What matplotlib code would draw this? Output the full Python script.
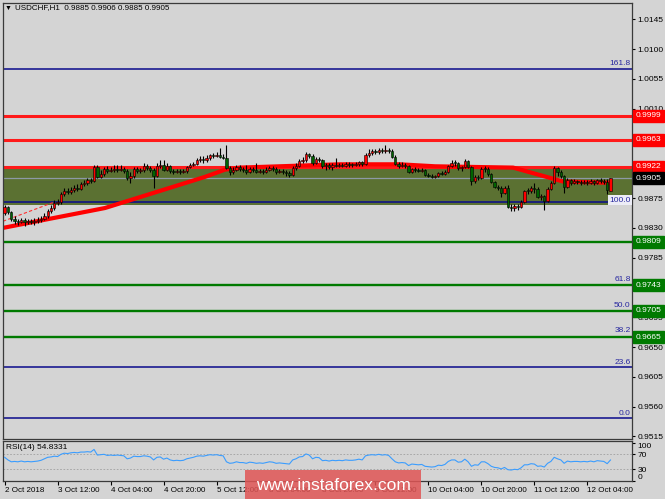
import matplotlib
matplotlib.use("Agg")
import matplotlib.pyplot as plt
from matplotlib.patches import Rectangle
from matplotlib.transforms import blended_transform_factory

plt.rcParams['font.family'] = ['Liberation Sans', 'DejaVu Sans']

symbol = "USDCHF,H1"

opens = [
    .9853, .9862, .9854, .9844, .9841, .9839, .9842, .9839, .9841, .9839,
    .9841, .9842, .9844, .9848, .9856, .9860, .9868, .9869, .9881, .9886,
    .9884, .9887, .9890, .9889, .9896, .9898, .9902, .9901, .9922, .9907,
    .9911, .9919, .9916, .9918, .9919, .9918, .9919, .9916, .9905, .9908,
    .9919, .9916, .9918, .9924, .9921, .9918, .9908, .9924, .9925, .9918,
    .9924, .9916, .9915, .9916, .9915, .9916, .9922, .9925, .9927, .9933,
    .9934, .9933, .9936, .9940, .9939, .9940, .9937, .9936, .9921, .9915,
    .9918, .9922, .9919, .9918, .9915, .9919, .9918, .9915, .9916, .9915,
    .9918, .9921, .9919, .9915, .9916, .9915, .9913, .9910, .9921, .9924,
    .9931, .9933, .9942, .9939, .9928, .9934, .9933, .9924, .9925, .9922,
    .9925, .9924, .9925, .9924, .9927, .9925, .9925, .9927, .9930, .9927,
    .9940, .9943, .9946, .9945, .9948, .9946, .9948, .9946, .9937, .9927,
    .9924, .9925, .9924, .9915, .9919, .9918, .9916, .9918, .9910, .9908,
    .9907, .9908, .9913, .9911, .9915, .9924, .9928, .9928, .9921, .9922,
    .9931, .9922, .9901, .9907, .9905, .9919, .9919, .9911, .9899, .9892,
    .9890, .9883, .9890, .9862, .9860, .9863, .9862, .9869, .9886, .9886,
    .9890, .9889, .9877, .9878, .9871, .9889, .9898, .9921, .9915, .9908,
    .9892, .9902, .9898, .9901, .9899, .9898, .9899, .9898, .9901, .9898,
    .9902, .9901, .9899, .9885,
]
highs = [
    .9865, .9863, .9856, .9848, .9844, .9845, .9845, .9844, .9844, .9845,
    .9847, .9848, .9853, .9859, .9865, .9872, .9874, .9884, .9890, .9890,
    .9892, .9895, .9896, .9899, .9902, .9905, .9905, .9925, .9925, .9918,
    .9922, .9924, .9922, .9925, .9925, .9925, .9922, .9919, .9915, .9922,
    .9922, .9921, .9928, .9927, .9924, .9921, .9928, .9933, .9933, .9928,
    .9925, .9919, .9919, .9919, .9919, .9924, .9928, .9930, .9936, .9939,
    .9939, .9940, .9942, .9943, .9945, .9951, .9942, .9955, .9924, .9922,
    .9925, .9925, .9922, .9925, .9922, .9922, .9928, .9919, .9919, .9922,
    .9924, .9924, .9922, .9919, .9919, .9918, .9916, .9924, .9928, .9934,
    .9937, .9945, .9943, .9942, .9937, .9937, .9934, .9928, .9928, .9928,
    .9936, .9928, .9928, .9930, .9930, .9928, .9930, .9931, .9931, .9943,
    .9949, .9949, .9949, .9951, .9951, .9955, .9951, .9949, .9940, .9930,
    .9930, .9928, .9925, .9921, .9922, .9921, .9921, .9919, .9913, .9911,
    .9910, .9915, .9916, .9918, .9925, .9933, .9933, .9930, .9924, .9934,
    .9933, .9924, .9910, .9910, .9922, .9924, .9922, .9913, .9901, .9895,
    .9893, .9893, .9895, .9866, .9866, .9866, .9872, .9887, .9890, .9893,
    .9898, .9892, .9881, .9880, .9892, .9901, .9924, .9922, .9918, .9910,
    .9905, .9904, .9904, .9902, .9902, .9902, .9902, .9904, .9902, .9904,
    .9905, .9904, .9904, .9906,
]
lows = [
    .9850, .9851, .9841, .9836, .9834, .9837, .9833, .9836, .9836, .9834,
    .9837, .9839, .9842, .9845, .9853, .9857, .9865, .9866, .9878, .9881,
    .9881, .9884, .9886, .9887, .9893, .9895, .9898, .9899, .9905, .9905,
    .9908, .9913, .9915, .9915, .9915, .9916, .9913, .9902, .9898, .9905,
    .9913, .9913, .9915, .9918, .9915, .9890, .9907, .9921, .9916, .9916,
    .9913, .9911, .9913, .9911, .9913, .9913, .9921, .9924, .9925, .9930,
    .9928, .9930, .9933, .9936, .9937, .9936, .9934, .9919, .9910, .9911,
    .9916, .9916, .9915, .9911, .9913, .9915, .9913, .9913, .9911, .9913,
    .9916, .9916, .9911, .9913, .9911, .9908, .9907, .9908, .9918, .9922,
    .9928, .9930, .9936, .9925, .9927, .9930, .9921, .9918, .9919, .9918,
    .9922, .9922, .9922, .9922, .9922, .9922, .9924, .9924, .9924, .9925,
    .9937, .9940, .9942, .9942, .9943, .9943, .9943, .9936, .9925, .9921,
    .9922, .9921, .9913, .9913, .9915, .9915, .9915, .9908, .9907, .9905,
    .9905, .9907, .9910, .9910, .9913, .9922, .9924, .9918, .9916, .9921,
    .9921, .9895, .9898, .9902, .9904, .9915, .9908, .9898, .9890, .9887,
    .9877, .9881, .9860, .9856, .9856, .9857, .9860, .9868, .9881, .9883,
    .9883, .9875, .9872, .9857, .9869, .9887, .9896, .9908, .9905, .9883,
    .9890, .9895, .9896, .9896, .9895, .9896, .9895, .9896, .9895, .9896,
    .9898, .9896, .9881, .9885,
]
closes = [
    .9862, .9854, .9844, .9841, .9839, .9842, .9839, .9841, .9839, .9841,
    .9842, .9844, .9848, .9856, .9860, .9868, .9869, .9881, .9886, .9884,
    .9887, .9890, .9889, .9896, .9898, .9902, .9901, .9922, .9907, .9911,
    .9919, .9916, .9918, .9919, .9918, .9919, .9916, .9905, .9908, .9919,
    .9916, .9918, .9924, .9921, .9918, .9908, .9924, .9925, .9918, .9924,
    .9916, .9915, .9916, .9915, .9916, .9922, .9925, .9927, .9933, .9934,
    .9933, .9936, .9940, .9939, .9940, .9937, .9936, .9921, .9915, .9918,
    .9922, .9919, .9918, .9915, .9919, .9918, .9915, .9916, .9915, .9918,
    .9921, .9919, .9915, .9916, .9915, .9913, .9910, .9921, .9924, .9931,
    .9933, .9942, .9939, .9928, .9934, .9933, .9924, .9925, .9922, .9925,
    .9924, .9925, .9924, .9927, .9925, .9925, .9927, .9930, .9927, .9940,
    .9943, .9946, .9945, .9948, .9946, .9948, .9946, .9937, .9927, .9924,
    .9925, .9924, .9915, .9919, .9918, .9916, .9918, .9910, .9908, .9907,
    .9908, .9913, .9911, .9915, .9924, .9928, .9928, .9921, .9922, .9931,
    .9922, .9901, .9907, .9905, .9919, .9919, .9911, .9899, .9892, .9890,
    .9883, .9890, .9862, .9860, .9863, .9862, .9869, .9886, .9886, .9890,
    .9889, .9877, .9878, .9871, .9889, .9898, .9921, .9915, .9908, .9892,
    .9902, .9898, .9901, .9899, .9898, .9899, .9898, .9901, .9898, .9902,
    .9901, .9899, .9887, .9905,
]

rsi_values = [
    62, 55, 50, 51, 50, 52, 50, 51, 50, 51,
    52, 54, 58, 62, 63, 65, 64, 70, 73, 72,
    74, 75, 74, 76, 76, 77, 76, 83, 68, 69,
    70, 67, 68, 67, 68, 67, 66, 58, 60, 65,
    64, 64, 66, 65, 63, 55, 62, 63, 57, 60,
    55, 53, 54, 53, 54, 58, 60, 62, 65, 66,
    65, 67, 69, 68, 69, 67, 66, 50, 46, 47,
    50, 48, 48, 46, 49, 48, 46, 47, 46, 48,
    50, 49, 46, 47, 46, 45, 44, 55, 58, 63,
    64, 71, 68, 58, 62, 61, 53, 54, 52, 54,
    53, 54, 53, 55, 54, 54, 55, 57, 55, 66,
    68, 69, 68, 70, 68, 69, 67, 58, 50, 47,
    48, 47, 40, 44, 43, 42, 43, 38, 37, 36,
    37, 41, 40, 43, 51, 55, 55, 49, 50, 57,
    50, 38, 42, 41, 50, 50, 45, 38, 35, 34,
    31, 35, 29, 28, 30, 29, 34, 42, 42, 45,
    44, 38, 39, 36, 46, 51, 62, 58, 55, 46,
    52, 50, 51, 51, 50, 51, 50, 52, 50, 53,
    52, 51, 45, 54.8331,
]
rsi_title = "RSI(14) 54.8331"

tick_idx = [0, 16, 32, 48, 64, 80, 96, 112, 128, 144, 160, 176]
tick_labels = ["2 Oct 2018", "3 Oct 12:00", "4 Oct 04:00", "4 Oct 20:00",
               "5 Oct 12:00", "8 Oct 04:00", "8 Oct 20:00", "9 Oct 12:00",
               "10 Oct 04:00", "10 Oct 20:00", "11 Oct 12:00", "12 Oct 04:00"]

price_ticks = [1.0145, 1.0100, 1.0055, 1.0010, 0.9965, 0.9920, 0.9875, 0.9830,
               0.9785, 0.9740, 0.9695, 0.9650, 0.9605, 0.9560, 0.9515]
resistance = [0.9999, 0.9963, 0.9922]
support = [0.9809, 0.9743, 0.9705, 0.9665]
current_price = 0.9905
fib_low, fib_high = 0.9543, 0.9869
fib_levels = [0.0, 23.6, 38.2, 50.0, 61.8, 100.0, 161.8]
zone_bottom, zone_top = 0.9864, 0.9920

ma_idx = [-0.5, 30.3, 60.5, 66.6, 71, 89, 101.3, 119.4, 130, 153.6, 168.7, 183.5]
ma_vals = [0.9830, 0.9860, 0.9907, 0.9918, 0.9921, 0.9924, 0.9926, 0.9926,
           0.9923, 0.9921, 0.9900, 0.9898]
fib_line_idx = [-0.5, 15]
fib_line_vals = [0.9840, 0.9869]

# ---------------------------------------------------------------
W, H = 665, 499
fig = plt.figure(figsize=(W / 100, H / 100), dpi=100)
bg = '#d4d4d4'
fig.patch.set_facecolor(bg)


def fx(px):
    return px / W


def fy(py):
    return 1 - py / H


ax = fig.add_axes([fx(3), fy(439), fx(632) - fx(3), fy(3) - fy(439)])
ax2 = fig.add_axes([fx(3), fy(481), fx(632) - fx(3), fy(441) - fy(481)], sharex=ax)
for a in (ax, ax2):
    a.set_facecolor(bg)
    for s in a.spines.values():
        s.set_color('#3a3a3a')
        s.set_linewidth(0.9)

n = len(closes)
xs = list(range(n))
ax.set_xlim(-0.5, 189.5)
ax.set_ylim(0.95112, 1.01696)

ax.axhspan(zone_bottom, zone_top, color='#5b7132', lw=0, zorder=0.5)
ax.axhline(current_price, color='#8d99a6', lw=0.9, zorder=0.8)

tr = blended_transform_factory(ax.transAxes, ax.transData)
rng = fib_high - fib_low
for lv in fib_levels:
    p = fib_low + rng * lv / 100.0
    covered = any(abs(p - s) < 0.0004 for s in support)
    if not covered:
        ax.axhline(p, color='#0a0a8c', lw=1.1, zorder=1)
    if lv == 100.0:
        ax.text(0.998, p + 0.0003, f"{lv:.1f}", transform=tr, ha='right', va='center',
                color='#2828a0', fontsize=6, zorder=6,
                bbox=dict(boxstyle='square,pad=0.15', fc='#ececf6', ec='none'))
    else:
        ax.text(0.998, p + 0.0002, f"{lv:.1f}", transform=tr, ha='right', va='bottom',
                color='#2828a0', fontsize=6, zorder=6)

for p in support:
    ax.axhline(p, color='#007a00', lw=1.7, zorder=1.2)
for p in resistance:
    ax.axhline(p, color='#ff1a1a', lw=2.2, zorder=1.2)

ax.plot(ma_idx, ma_vals, color='#ff0000', lw=3.0, zorder=1.5, solid_capstyle='butt')
ax.plot(fib_line_idx, fib_line_vals, color='#ff3030', lw=0.8, ls=(0, (3, 2)), zorder=1.5)

# candles
ax.vlines(xs, lows, highs, color='black', lw=0.8, zorder=3)
bottoms = [min(o, c) for o, c in zip(opens, closes)]
heights = [max(abs(c - o), 0.00008) for o, c in zip(opens, closes)]
colors = ['#ff0000' if c > o else '#006400' for o, c in zip(opens, closes)]
ax.bar(xs, heights, bottom=bottoms, width=0.7, color=colors, edgecolor='black',
       linewidth=0.4, zorder=4)

# price axis: labels hidden under a resistance box are left blank (as in the source)
ax.yaxis.tick_right()
ax.set_yticks(price_ticks)
ax.set_yticklabels(["" if any(abs(p - r) < 0.0004 for r in resistance) else f"{p:.4f}"
                    for p in price_ticks])
ax.tick_params(axis='y', length=2.2, width=0.8, labelsize=6, pad=1.8, colors='black')
ax.tick_params(axis='x', bottom=False, labelbottom=False)

# price boxes on the right axis
boxes = [(p, '#ff0000') for p in resistance] + [(current_price, '#000000')] + \
        [(p, '#007a00') for p in support]
for p, col in boxes:
    ax.text(1.006, p, f"{p:.4f}", transform=tr, ha='left', va='center', color='white',
            fontsize=6, zorder=12, clip_on=False,
            bbox=dict(boxstyle='square,pad=0.3', fc=col, ec=col))

# RSI panel
ax2.plot(xs, rsi_values, color='#3b9dff', lw=0.8, zorder=3)
for lv in (70, 30):
    ax2.axhline(lv, color='#a0a0a0', lw=0.6, ls=(0, (2, 2)), zorder=1)
ax2.set_ylim(-1.2, 105.5)
ax2.yaxis.tick_right()
ax2.set_yticks([100, 70, 30, 0])
ax2.set_yticklabels(['100', '70', '30', '0'])
ax2.tick_params(axis='y', length=2.2, width=0.8, labelsize=6, pad=1.8)
lbls = ax2.get_yticklabels()
lbls[0].set_va('top')
lbls[-1].set_va('bottom')
ax2.set_xticks(tick_idx)
ax2.set_xticklabels(tick_labels, ha='left')
ax2.tick_params(axis='x', length=3, width=0.8, labelsize=5.8, pad=1)
ax2.text(0.004, 0.93, rsi_title, transform=ax2.transAxes, ha='left', va='top',
         fontsize=6, color='black')

# header
fig.text(fx(5), fy(8), '\u25bc', fontsize=5, ha='left', va='center', color='black')
header = f"{symbol}  {opens[-1]:.4f} {highs[-1]:.4f} {lows[-1]:.4f} {closes[-1]:.4f}"
fig.text(fx(15), fy(8), header, fontsize=5.8, ha='left', va='center', color='black')

# watermark
fig.patches.append(Rectangle((fx(245), 0), fx(421) - fx(245), fy(470),
                             transform=fig.transFigure, fc='#e05555', ec='none',
                             alpha=0.85, zorder=10))
fig.text(fx(333), fy(485), 'www.instaforex.com', color='white', fontsize=12.5,
         ha='center', va='center', zorder=11)

fig.savefig('out.png', dpi=100, facecolor=bg)
